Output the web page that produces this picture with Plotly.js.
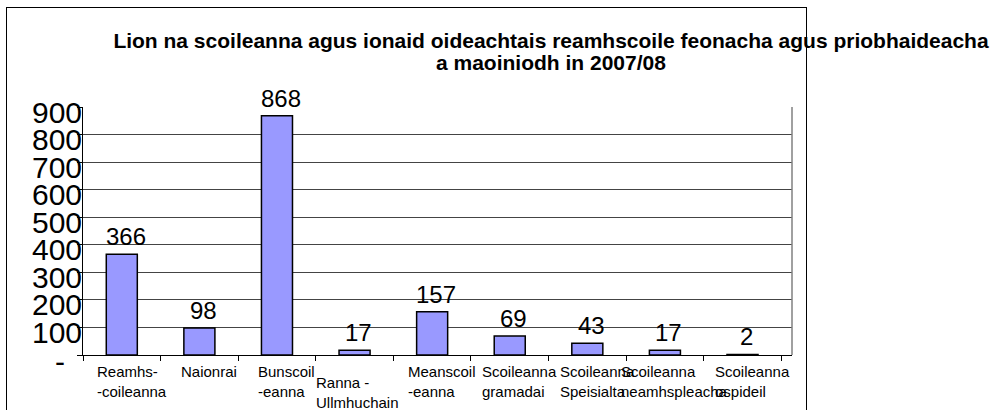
<!DOCTYPE html>
<html>
<head>
<meta charset="utf-8">
<script src="https://cdn.plot.ly/plotly-3.0.1.min.js"></script>
<style>
  html, body { margin: 0; padding: 0; background: #fff; }
  #wrap { position: relative; width: 1000px; height: 410px; overflow: hidden; }
  #chart { width: 1000px; height: 410px; }
  #frame { position: absolute; left: 6px; top: 7px; width: 799px; height: 420px;
           border: 1px solid #000; pointer-events: none; }
</style>
</head>
<body>
<div id="wrap">
  <div id="chart"></div>
  <div id="frame"></div>
</div>
<script>
const categories = ["Reamhs--coileanna", "Naionrai", "Bunscoil-eanna", "Ranna - Ullmhuchain",
  "Meanscoil-eanna", "Scoileanna gramadai", "Scoileanna Speisialta",
  "Scoileanna neamhspleacha", "Scoileanna ospideil"];
const categoryLabels = ["Reamhs-<br>-coileanna", "Naionrai", "Bunscoil<br>-eanna", "Ranna -<br>Ullmhuchain",
  "Meanscoil<br>-eanna", "Scoileanna<br>gramadai", "Scoileanna<br>Speisialta",
  "Scoileanna<br>neamhspleacha", "Scoileanna<br>ospideil"];
const values = [366, 98, 868, 17, 157, 69, 43, 17, 2];
const yTickValues = [0, 100, 200, 300, 400, 500, 600, 700, 800, 900];
const yTickLabels = ["-\u00a0\u00a0", "100", "200", "300", "400", "500", "600", "700", "800", "900"];
const titleLine1 = "Lion na scoileanna agus ionaid oideachtais reamhscoile feonacha agus priobhaideacha";
const titleLine2 = "a maoiniodh in 2007/08";

const FONT = "Liberation Sans, Arial, Helvetica, sans-serif";

const trace = {
  type: "bar",
  x: categories,
  y: values,
  marker: { color: "#9999FF", line: { color: "#000", width: 1.5 } },
  hoverinfo: "x+y"
};

// category labels under the axis
const xLabelAnn = categories.map((c, i) => ({
  x: c, xref: "x", y: 0, yref: "paper",
  text: categoryLabels[i],
  showarrow: false,
  xanchor: "center", yanchor: "top",
  align: "left",
  xshift: (i === 3) ? 3 : 10,
  yshift: (i === 3) ? -17 : -6,
  font: { family: FONT, size: 15, color: "#000" }
}));

// value labels above the bars
const valueAnn = categories.map((c, i) => ({
  x: c, xref: "x", y: values[i], yref: "y",
  text: String(values[i]),
  showarrow: false,
  xanchor: "center", yanchor: "bottom",
  xshift: 4, yshift: 2,
  font: { family: FONT, size: 24, color: "#000" }
}));

// y tick labels
const yLabelAnn = yTickValues.map((v, i) => ({
  x: 0, xref: "paper", y: v, yref: "y",
  text: yTickLabels[i],
  showarrow: false,
  xanchor: "right", yanchor: "middle",
  xshift: 1, yshift: (i === 0) ? -6 : -5,
  font: { family: FONT, size: 30, color: "#000" }
}));

// second title line
const titleAnn = [{
  x: 0.66, xref: "paper", y: 1.127, yref: "paper",
  text: "<b>" + titleLine2 + "</b>",
  showarrow: false, xanchor: "center", yanchor: "bottom",
  font: { family: FONT, size: 21, color: "#000" }
}];

const layout = {
  width: 1000, height: 410,
  margin: { l: 83, r: 208, t: 107, b: 55, pad: 0 },
  paper_bgcolor: "#fff", plot_bgcolor: "#fff",
  showlegend: false,
  bargap: 0.6,
  font: { family: FONT, color: "#000" },
  title: {
    text: "<b>" + titleLine1 + "</b>",
    font: { family: FONT, size: 21, color: "#000" },
    x: 0.551, xref: "container", xanchor: "center",
    y: 0.918, yref: "container", yanchor: "top"
  },
  xaxis: {
    type: "category",
    showticklabels: false,
    ticks: "outside", tickson: "boundaries", ticklen: 5, tickcolor: "#000",
    showline: true, linecolor: "#000", linewidth: 1,
    mirror: false, showgrid: false, zeroline: false,
    fixedrange: true
  },
  yaxis: {
    range: [0, 900],
    tickmode: "array", tickvals: yTickValues,
    showticklabels: false,
    ticks: "outside", ticklen: 5, tickcolor: "#000",
    showline: true, linecolor: "#000", linewidth: 1,
    showgrid: true, gridcolor: "#444", gridwidth: 1,
    zeroline: false, fixedrange: true
  },
  shapes: [
    { type: "line", xref: "paper", yref: "paper", x0: 1, x1: 1, y0: 0, y1: 1,
      line: { color: "#808080", width: 1.5 } }
  ],
  annotations: titleAnn.concat(xLabelAnn, valueAnn, yLabelAnn)
};

Plotly.newPlot("chart", [trace], layout, { displayModeBar: false, staticPlot: true });
</script>
</body>
</html>
